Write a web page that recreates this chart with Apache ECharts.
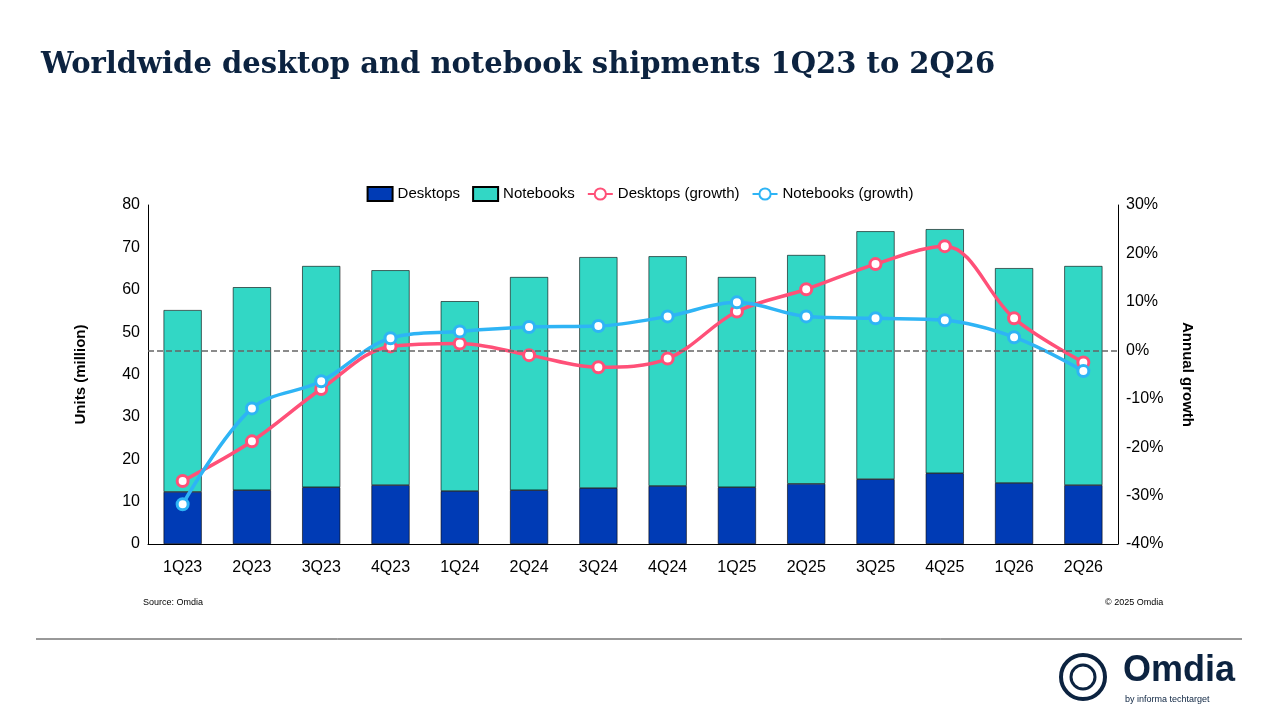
<!DOCTYPE html>
<html><head><meta charset="utf-8">
<script src="https://cdn.jsdelivr.net/npm/echarts@6/dist/echarts.min.js"></script>
<style>html,body{margin:0;padding:0;background:#fff}#c{width:1280px;height:720px}</style>
</head><body><div id="c"></div>
<script>
const categories=['1Q23','2Q23','3Q23','4Q23','1Q24','2Q24','3Q24','4Q24','1Q25','2Q25','3Q25','4Q25','1Q26','2Q26'];
const desktops=[12.3,12.7,13.4,13.9,12.5,12.7,13.2,13.7,13.4,14.2,15.3,16.7,14.4,13.9];
const notebooks=[42.9,47.9,52.2,50.7,44.8,50.3,54.5,54.2,49.6,54.0,58.5,57.6,50.7,51.7];
const desktopGrowth=[-27,-18.8,-8,0.8,1.4,-1,-3.5,-1.7,8,12.6,17.8,21.5,6.6,-2.5];
const notebookGrowth=[-31.8,-12,-6.4,2.5,3.9,4.8,5,7,9.9,7,6.6,6.2,2.7,-4.3];
const ch=echarts.init(document.getElementById('c'));
const ff='Liberation Sans';
ch.setOption({
 textStyle:{fontFamily:ff},
 title:[{text:'Worldwide desktop and notebook shipments 1Q23 to 2Q26',left:36,top:46,textStyle:{fontFamily:'DejaVu Serif',fontSize:29,fontWeight:'bold',color:'#0c2340'}},
  {text:'Source: Omdia',left:138,top:593,textStyle:{fontSize:9,fontWeight:'normal',color:'#000'}},
  {text:'© 2025 Omdia',left:1100,top:593,textStyle:{fontSize:9,fontWeight:'normal',color:'#000'}},
  {text:'Omdia',left:1118,top:648,textStyle:{fontSize:36,fontWeight:'bold',color:'#0c2340'}},
  {text:'by informa techtarget',left:1120,top:690,textStyle:{fontSize:9,fontWeight:'normal',color:'#0c2340'}}],
 graphic:[{type:'line',shape:{x1:36,y1:639,x2:1242,y2:639},style:{stroke:'#333',lineWidth:1}},
  {type:'circle',shape:{cx:1083,cy:677,r:22},style:{fill:'none',stroke:'#0c2340',lineWidth:4}},
  {type:'circle',shape:{cx:1083,cy:677,r:12},style:{fill:'none',stroke:'#0c2340',lineWidth:3}}],
 legend:{top:181,left:'center',itemGap:12,textStyle:{fontSize:15,color:'#000'},
  data:[{name:'Desktops',icon:'rect'},{name:'Notebooks',icon:'rect'},'Desktops (growth)','Notebooks (growth)']},
 grid:{left:148,right:162,top:205,bottom:176},
 xAxis:{type:'category',data:categories,axisTick:{show:false},axisLine:{lineStyle:{color:'#000'}},axisLabel:{fontSize:16,color:'#000',margin:16}},
 yAxis:[{type:'value',min:0,max:80,interval:10,name:'Units (million)',nameLocation:'middle',nameGap:60,nameTextStyle:{fontSize:15,fontWeight:'bold',color:'#000'},
   axisLine:{show:true,lineStyle:{color:'#000'}},splitLine:{show:false},axisLabel:{fontSize:16,color:'#000'}},
  {type:'value',min:-40,max:30,interval:10,name:'Annual growth',nameLocation:'middle',nameGap:62,nameRotate:-90,nameTextStyle:{fontSize:15,fontWeight:'bold',color:'#000'},
   axisLine:{show:true,lineStyle:{color:'#000'}},splitLine:{show:false},axisLabel:{fontSize:16,color:'#000',formatter:'{value}%'}}],
 series:[
  {name:'Desktops',type:'bar',stack:'a',data:desktops,barWidth:'55%',itemStyle:{color:'#003bb5',borderColor:'#000',borderWidth:0.6}},
  {name:'Notebooks',type:'bar',stack:'a',data:notebooks,itemStyle:{color:'#32d7c5',borderColor:'#000',borderWidth:0.6}},
  {name:'Desktops (growth)',type:'line',yAxisIndex:1,smooth:0.35,data:desktopGrowth,symbol:'circle',symbolSize:11,
   lineStyle:{color:'#ff5078',width:3.5},itemStyle:{color:'#fff',borderColor:'#ff5078',borderWidth:3},
   markLine:{silent:true,symbol:'none',label:{show:false},lineStyle:{color:'#666',type:'dashed',width:1.5},data:[{yAxis:0}]}},
  {name:'Notebooks (growth)',type:'line',yAxisIndex:1,smooth:0.35,data:notebookGrowth,symbol:'circle',symbolSize:11,
   lineStyle:{color:'#2eb4f5',width:3.5},itemStyle:{color:'#fff',borderColor:'#2eb4f5',borderWidth:3}}
 ]
});
</script></body></html>
